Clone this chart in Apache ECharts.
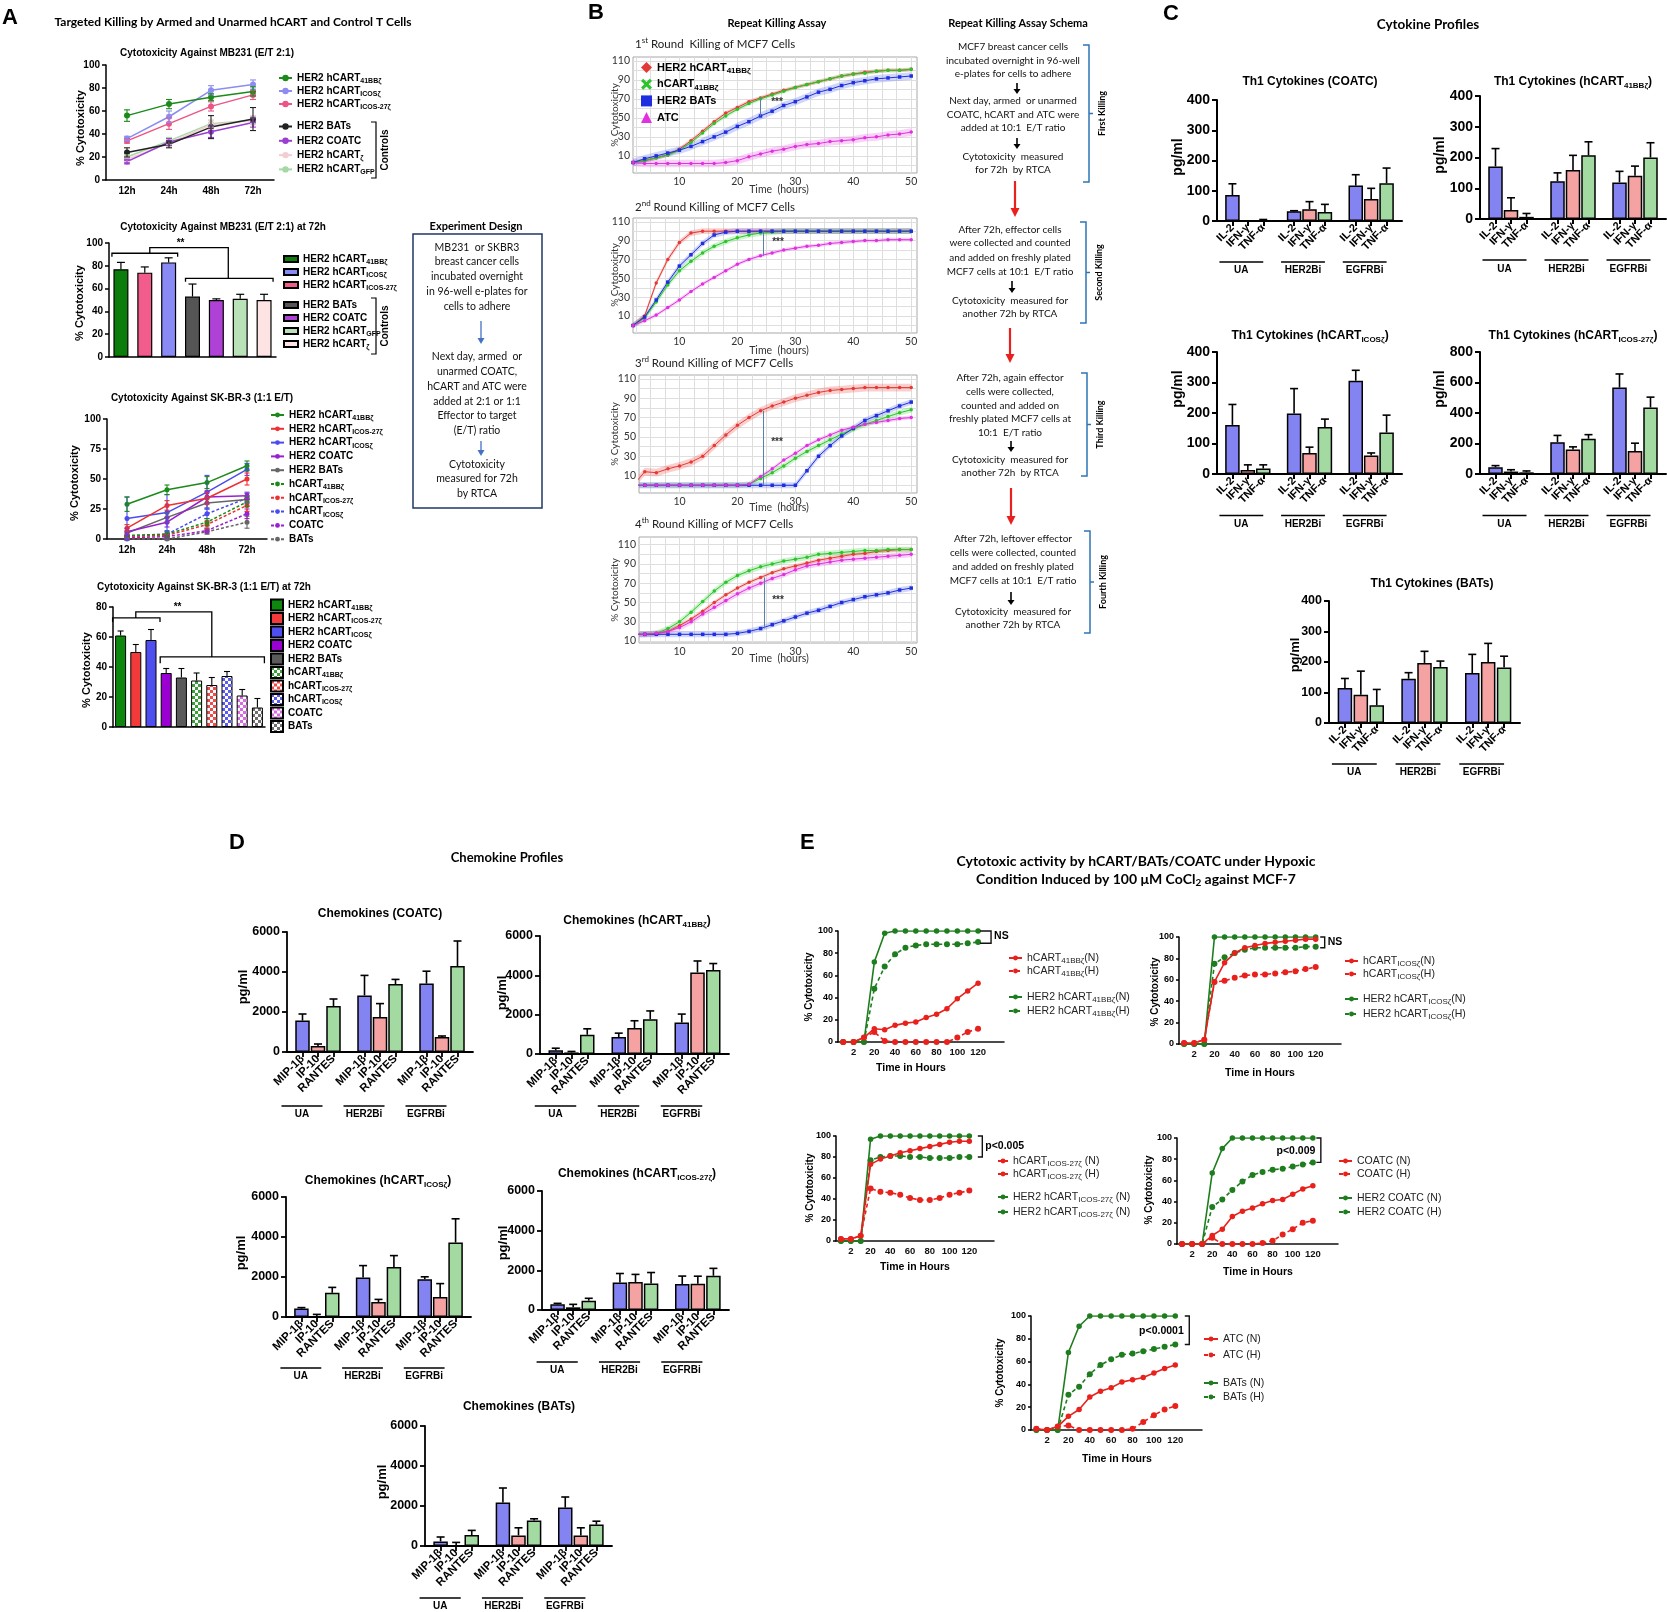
<!DOCTYPE html>
<html>
<head>
<meta charset="utf-8">
<title>hCART cytotoxicity, cytokine and chemokine panels</title>
<script src="https://cdn.jsdelivr.net/npm/echarts@6.0.0/dist/echarts.min.js"></script>
<style>
  html, body { margin: 0; padding: 0; background: #fff; }
  #main { width: 1667px; height: 1612px; }
</style>
</head>
<body>
<div id="main"></div>
<script>
// ---------------- panel A data ----------------
const timeA = ['12h', '24h', '48h', '72h'];
// MB231, E/T 2:1 kinetics
const mbCart41bb = [56, 66, 72, 77];
const mbCart41bbErr = [5, 4, 3, 4];
const mbCartIcos = [36, 55, 78, 83];
const mbCartIcosErr = [2, 5, 4, 4];
const mbCartIcos27 = [34, 49, 64, 74];
const mbCartIcos27Err = [2, 5, 4, 4];
const mbBats = [24, 31, 46, 53];
const mbBatsErr = [4, 3, 10, 10];
const mbCoatc = [16, 33, 42, 50];
const mbCoatcErr = [2, 3, 5, 4];
const mbCartZeta = [18, 32, 48, 52];
const mbCartZetaErr = [2, 3, 4, 4];
const mbCartGfp = [20, 34, 49, 52];
const mbCartGfpErr = [2, 3, 3, 3];
// MB231 at 72h
const mb72Groups = ['HER2 hCART41BBζ', 'HER2 hCARTICOS-27ζ', 'HER2 hCARTICOSζ', 'HER2 BATs', 'HER2 COATC', 'HER2 hCARTGFP', 'HER2 hCARTζ'];
const mb72Vals = [77, 74, 83, 53, 50, 51, 50];
const mb72Err = [6, 5, 4, 11, 1, 4, 5];
// SK-BR-3, 1:1 kinetics
const skCart41bb = [29, 41, 47, 61];
const skCart41bbErr = [6, 4, 5, 4];
const skCartIcos27 = [9, 28, 34, 50];
const skCartIcos27Err = [3, 4, 5, 5];
const skCartIcos = [17, 22, 39, 58];
const skCartIcosErr = [18, 15, 14, 5];
const skCoatc = [6, 14, 35, 36];
const skCoatcErr = [3, 4, 5, 3];
const skBats = [5, 18, 30, 33];
const skBatsErr = [2, 4, 4, 3];
const skUn41bb = [3, 4, 14, 31];
const skUn41bbErr = [1, 2, 3, 4];
const skUnIcos27 = [2, 3, 12, 28];
const skUnIcos27Err = [1, 1, 3, 5];
const skUnIcos = [2, 4, 21, 34];
const skUnIcosErr = [1, 2, 4, 4];
const skUnCoatc = [1, 2, 7, 21];
const skUnCoatcErr = [1, 1, 2, 4];
const skUnBats = [0, 0, 6, 14];
const skUnBatsErr = [1, 1, 2, 5];
// SK-BR-3 at 72h
const sk72Groups = ['HER2 hCART41BBζ', 'HER2 hCARTICOS-27ζ', 'HER2 hCARTICOSζ', 'HER2 COATC', 'HER2 BATs', 'hCART41BBζ', 'hCARTICOS-27ζ', 'hCARTICOSζ', 'COATC', 'BATs'];
const sk72Vals = [61, 50, 58, 36, 33, 31, 28, 34, 21, 13];
const sk72Err = [3, 5, 7, 3, 6, 5, 5, 3, 4, 6];

// ---------------- panel B data (RTCA, % cytotoxicity) ----------------
const hoursB = [2, 4, 6, 8, 10, 12, 14, 16, 18, 20, 22, 24, 26, 28, 30, 32, 34, 36, 38, 40, 42, 44, 46, 48, 50];
const b1Her2Cart = [3, 5, 8, 11, 17, 26, 36, 46, 55, 61, 67, 71, 75, 79, 82, 85, 88, 91, 94, 96, 98, 99, 100, 100, 101];
const b1Cart = [3, 5, 8, 11, 16, 24, 34, 44, 52, 59, 65, 70, 74, 78, 82, 85, 88, 91, 94, 96, 97, 99, 100, 100, 101];
const b1Bats = [3, 7, 10, 13, 16, 20, 25, 30, 35, 41, 46, 52, 57, 63, 67, 72, 77, 80, 84, 87, 89, 91, 92, 93, 94];
const b1Atc = [3, 2, 2, 2, 2, 2, 2, 2, 3, 5, 9, 12, 15, 17, 20, 22, 23, 25, 26, 27, 29, 30, 32, 33, 35];
const b2Her2Cart = [0, 10, 45, 70, 88, 98, 100, 100, 100, 100, 100, 100, 100, 100, 100, 100, 100, 100, 100, 100, 100, 100, 100, 100, 100];
const b2Cart = [0, 8, 25, 43, 58, 68, 77, 84, 89, 93, 96, 98, 99, 100, 100, 100, 100, 100, 100, 100, 100, 100, 100, 100, 100];
const b2Bats = [0, 9, 27, 46, 63, 75, 87, 96, 99, 100, 100, 100, 100, 100, 100, 100, 100, 100, 100, 100, 100, 100, 100, 100, 100];
const b2Atc = [0, 5, 11, 19, 27, 36, 44, 51, 58, 65, 70, 74, 77, 80, 82, 84, 85, 87, 88, 89, 90, 90, 91, 91, 91];
const b3Her2Cart = [0, 14, 13, 17, 20, 24, 30, 41, 52, 62, 70, 77, 82, 86, 90, 93, 96, 98, 99, 100, 101, 101, 101, 101, 101];
const b3Cart = [0, 0, 0, 0, 0, 0, 0, 0, 0, 0, 1, 7, 13, 20, 28, 35, 41, 47, 53, 58, 63, 67, 71, 75, 78];
const b3Bats = [0, 0, 0, 0, 0, 0, 0, 0, 0, 0, 0, 0, 0, 0, 0, 15, 30, 41, 51, 59, 67, 72, 77, 82, 86];
const b3Atc = [0, 0, 0, 0, 0, 0, 0, 0, 0, 0, 1, 9, 17, 26, 33, 41, 47, 52, 57, 60, 63, 65, 67, 69, 70];
const b4Her2Cart = [17, 17, 18, 20, 26, 33, 41, 50, 58, 65, 71, 76, 81, 85, 88, 91, 94, 96, 98, 100, 101, 103, 104, 105, 105];
const b4Cart = [17, 17, 18, 23, 30, 40, 51, 62, 71, 78, 83, 87, 90, 93, 95, 97, 100, 101, 102, 103, 104, 104, 105, 105, 105];
const b4Bats = [17, 17, 17, 17, 17, 17, 17, 17, 17, 18, 20, 23, 27, 31, 35, 39, 42, 46, 50, 53, 56, 58, 60, 63, 65];
const b4Atc = [17, 17, 18, 20, 24, 30, 38, 45, 52, 59, 65, 70, 75, 79, 84, 88, 90, 92, 94, 95, 96, 97, 98, 99, 100];
// half width of the shaded spread band, one per curve (HER2 hCART, hCART, HER2 BATs, ATC)
const b1Spread = [2, 2, 4, 4];
const b2Spread = [3, 3, 3, 2];
const b3Spread = [4, 3, 3, 2];
const b4Spread = [2, 3, 3, 3];

// ---------------- panel C data (pg/ml) ----------------
const cytoCats = ['IL-2', 'IFN-γ', 'TNF-α'];
const groupsCD = ['UA', 'HER2Bi', 'EGFRBi'];
const cytoCoatc = [86, 0, 2, 32, 39, 30, 117, 73, 125];
const cytoCoatcErr = [37, 0, 3, 2, 25, 25, 36, 35, 50];
const cyto41bb = [171, 29, 7, 123, 159, 207, 119, 141, 200];
const cyto41bbErr = [58, 40, 11, 27, 48, 44, 36, 31, 48];
const cytoIcos = [161, 13, 18, 198, 69, 154, 306, 61, 136];
const cytoIcosErr = [67, 17, 12, 82, 19, 26, 34, 8, 57];
const cytoIcos27 = [44, 16, 11, 209, 160, 231, 567, 151, 436];
const cytoIcos27Err = [11, 12, 9, 44, 18, 27, 89, 51, 68];
const cytoBats = [115, 93, 58, 145, 197, 184, 164, 200, 182];
const cytoBatsErr = [31, 77, 52, 20, 38, 19, 61, 61, 37];

// ---------------- panel D data (pg/ml) ----------------
const chemoCats = ['MIP-1β', 'IP-10', 'RANTES'];
const chemoCoatc = [1570, 300, 2300, 2830, 1750, 3400, 3420, 750, 4300];
const chemoCoatcErr = [330, 100, 350, 1000, 670, 230, 620, 50, 1250];
const chemo41bb = [185, 80, 980, 860, 1320, 1770, 1600, 4150, 4270];
const chemo41bbErr = [110, 50, 300, 200, 370, 420, 430, 580, 330];
const chemoIcos = [420, 10, 1210, 1980, 750, 2500, 1890, 1000, 3720];
const chemoIcosErr = [50, 120, 270, 590, 130, 570, 120, 670, 1190];
const chemoIcos27 = [285, 135, 470, 1390, 1410, 1340, 1310, 1320, 1730];
const chemoIcos27Err = [50, 150, 120, 450, 385, 550, 400, 385, 370];
const chemoBats = [230, 30, 550, 2170, 530, 1280, 1920, 530, 1070];
const chemoBatsErr = [220, 150, 230, 730, 380, 80, 530, 380, 170];

// ---------------- panel E data (% cytotoxicity, N = normoxia, H = hypoxia) ----------------
const hoursE = ['1', '2', '10', '20', '30', '40', '50', '60', '70', '80', '90', '100', '110', '120'];
const e41bbN = [0, 0, 4, 12, 11, 15, 17, 18, 22, 25, 30, 39, 46, 53];
const e41bbH = [0, 0, 4, 9, 1, 0, 0, 0, 0, 0, 0, 4, 9, 12];
const eHer2_41bbN = [0, 0, 0, 72, 98, 100, 100, 100, 100, 100, 100, 100, 100, 100];
const eHer2_41bbH = [0, 0, 0, 48, 68, 79, 85, 87, 88, 88, 88, 88, 89, 90];
const eIcosN = [1, 1, 4, 58, 76, 85, 90, 92, 94, 95, 96, 97, 98, 98];
const eIcosH = [1, 1, 4, 58, 59, 62, 64, 65, 65, 66, 67, 68, 70, 72];
const eHer2IcosN = [0, 0, 0, 100, 100, 100, 100, 100, 100, 100, 100, 100, 100, 100];
const eHer2IcosH = [0, 0, 0, 75, 81, 85, 88, 90, 90, 90, 90, 90, 91, 91];
const eIcos27N = [2, 2, 5, 73, 78, 81, 84, 86, 88, 90, 92, 94, 95, 95];
const eIcos27H = [2, 2, 5, 50, 47, 46, 44, 41, 39, 39, 41, 44, 46, 48];
const eHer2Icos27N = [0, 0, 0, 97, 100, 100, 100, 100, 100, 100, 100, 100, 100, 100];
const eHer2Icos27H = [0, 0, 0, 77, 80, 81, 81, 80, 80, 79, 79, 79, 80, 80];
const eCoatcN = [0, 0, 0, 8, 14, 26, 31, 34, 38, 41, 42, 47, 52, 55];
const eCoatcH = [0, 0, 0, 6, 0, 0, 0, 0, 1, 3, 9, 14, 20, 22];
const eHer2CoatcN = [0, 0, 0, 67, 90, 100, 100, 100, 100, 100, 100, 100, 100, 100];
const eHer2CoatcH = [0, 0, 0, 35, 42, 51, 59, 65, 68, 70, 71, 73, 75, 77];
const eAtcN = [1, 0, 3, 12, 18, 29, 34, 37, 42, 44, 46, 50, 54, 57];
const eAtcH = [1, 0, 3, 4, 0, 0, 0, 0, 0, 1, 7, 13, 18, 21];
const eBatsN = [0, 0, 0, 68, 91, 100, 100, 100, 100, 100, 100, 100, 100, 100];
const eBatsH = [0, 0, 0, 31, 38, 49, 57, 62, 66, 67, 69, 71, 73, 75];

// ---------------- helpers ----------------
const F = '"Liberation Sans", Arial, sans-serif';
const FL = 'Lato, "Open Sans", sans-serif';
const grids = [], xAxes = [], yAxes = [], series = [], legends = [], G = [], post = [];
const LBL = {};

function box(l, t, r, b) { return { left: l, top: t, width: r - l, height: b - t }; }
function plot(g, x, y) {
  const i = grids.length;
  grids.push(Object.assign({ outerBoundsMode: 'none', containLabel: false }, g));
  xAxes.push(Object.assign({ gridIndex: i }, x));
  yAxes.push(Object.assign({ gridIndex: i }, y));
  return i;
}
function gpY(max, interval, size, lw, tick, margin) {
  return { type: 'value', min: 0, max: max, interval: interval,
    axisLine: { show: true, lineStyle: { color: '#000', width: lw } },
    axisTick: { show: true, length: tick, lineStyle: { color: '#000', width: lw } },
    axisLabel: { color: '#000', fontFamily: F, fontWeight: 'bold', fontSize: size, margin: margin,
      formatter: function (v) { return String(v); } },
    splitLine: { show: false } };
}
function catX(cats, size, lw) {
  return { type: 'category', data: cats, boundaryGap: true,
    axisLine: { lineStyle: { color: '#000', width: lw } },
    axisTick: { alignWithLabel: true, length: 4, lineStyle: { color: '#000', width: lw } },
    axisLabel: { interval: 0, color: '#000', fontFamily: F, fontWeight: 'bold', fontSize: size, margin: 6 } };
}
function errBars(gi, pts, color, both, cap, lw) {
  series.push({ type: 'custom', xAxisIndex: gi, yAxisIndex: gi, silent: true, z: 4,
    encode: { x: 0, y: 1 }, data: pts,
    renderItem: function (p, api) {
      const x = api.value(0), v = api.value(1), e = api.value(2);
      const a = api.coord([x, v + e]), b = api.coord([x, both ? v - e : v]);
      const st = { stroke: color, lineWidth: lw };
      const kids = [
        { type: 'line', shape: { x1: a[0], y1: a[1], x2: b[0], y2: b[1] }, style: st },
        { type: 'line', shape: { x1: a[0] - cap / 2, y1: a[1], x2: a[0] + cap / 2, y2: a[1] }, style: st }];
      if (both) kids.push({ type: 'line', shape: { x1: b[0] - cap / 2, y1: b[1], x2: b[0] + cap / 2, y2: b[1] }, style: st });
      return { type: 'group', children: kids };
    } });
}
function legend(ids, left, top, o) {
  const fam = o.fam || F, w = o.w || 'bold', col = o.color || '#000', sub = Math.round(o.size * 0.72);
  legends.push({ data: ids.map(function (id, k) { return o.icons ? { name: id, icon: o.icons[k] } : (o.icon ? { name: id, icon: o.icon } : id); }),
    orient: 'vertical', left: left, top: top, padding: 0, selectedMode: false,
    itemWidth: o.iw, itemHeight: o.ih, itemGap: o.gap,
    formatter: function (n) { return LBL[n]; },
    textStyle: { fontFamily: fam, fontWeight: w, fontSize: o.size, color: col, lineHeight: o.lh,
      rich: { s: { fontFamily: fam, fontWeight: w, fontSize: sub, color: col, lineHeight: sub + 1, verticalAlign: 'bottom' } } } });
}
function T(x, y, text, size, o) {
  o = o || {};
  const w = o.w || 'bold', fam = o.fam || F, col = o.color || '#000';
  const sub = Math.max(6, Math.round(size * 0.7));
  const sf = w + ' ' + sub + 'px ' + fam;
  G.push({ type: 'text', x: x, y: y, rotation: o.rot || 0, silent: true, z: 10,
    style: { text: text, font: w + ' ' + size + 'px ' + fam, fill: col,
      textAlign: o.align || 'center', textVerticalAlign: 'middle', align: o.align || 'center', verticalAlign: 'middle',
      lineHeight: size + 4,
      rich: { s: { font: sf, fill: col, verticalAlign: 'bottom', lineHeight: sub + 1 },
              u: { font: sf, fill: col, verticalAlign: 'top', lineHeight: sub + 1 } } } });
}
function L(pts, col, w) {
  G.push({ type: 'polyline', silent: true, z: 10, shape: { points: pts }, style: { stroke: col || '#000', lineWidth: w || 1.2, fill: 'none' } });
}
function arrow(x, y1, y2, col, w, hw, hh) {
  L([[x, y1], [x, y2 - hh + 1]], col, w);
  G.push({ type: 'polygon', silent: true, z: 10, shape: { points: [[x - hw, y2 - hh], [x + hw, y2 - hh], [x, y2]] }, style: { fill: col } });
}
function checker(color) {
  const c = document.createElement('canvas'); c.width = 6; c.height = 6;
  const g = c.getContext('2d');
  g.fillStyle = '#fff'; g.fillRect(0, 0, 6, 6);
  g.fillStyle = color; g.fillRect(0, 0, 3, 3); g.fillRect(3, 3, 3, 3);
  return { image: c, repeat: 'repeat' };
}
function lineCurves(gi, curves, cap, size) {
  curves.slice().reverse().forEach(function (c) {
    LBL[c[0]] = c[1];
    series.push({ type: 'line', name: c[0], xAxisIndex: gi, yAxisIndex: gi, data: c[2], symbol: 'circle', symbolSize: size,
      itemStyle: { color: c[4] }, lineStyle: { color: c[4], width: 1.5, type: c[5] ? [3, 2] : 'solid' }, z: 3, silent: true });
    errBars(gi, c[3].map(function (e, i) { return [i, c[2][i], e]; }), c[4], true, cap, 1.1);
  });
}
function singleBars(gi, ids, lbls, vals, cols, bw, bwid) {
  ids.forEach(function (id, i) {
    LBL[id] = lbls[i];
    series.push({ type: 'bar', name: id, xAxisIndex: gi, yAxisIndex: gi, barWidth: bw, barGap: '-100%', silent: true, z: 2,
      data: vals.map(function (v, j) { return j === i ? v : '-'; }),
      itemStyle: { color: cols[i], borderColor: '#000', borderWidth: bwid } });
  });
}
const P = function (gi, x, y) { return chart.convertToPixel({ gridIndex: gi }, [x, y]); };

// ---------------- panel A ----------------
T(2, 18, 'A', 22, { align: 'left' });
T(233, 22, 'Targeted Killing by Armed and Unarmed hCART and Control T Cells', 12, { fam: FL });

const a1 = plot(box(106, 65, 274, 180), catX(timeA, 10, 1.5), gpY(100, 20, 10, 1.5, 4, 6));
lineCurves(a1, [
  ['a1_41bb', 'HER2 hCART{s|41BBζ}', mbCart41bb, mbCart41bbErr, '#1b8a1b'],
  ['a1_icos', 'HER2 hCART{s|ICOSζ}', mbCartIcos, mbCartIcosErr, '#8c8cf2'],
  ['a1_icos27', 'HER2 hCART{s|ICOS-27ζ}', mbCartIcos27, mbCartIcos27Err, '#ec5585'],
  ['a1_bats', 'HER2 BATs', mbBats, mbBatsErr, '#222222'],
  ['a1_coatc', 'HER2 COATC', mbCoatc, mbCoatcErr, '#9a3fd2'],
  ['a1_zeta', 'HER2 hCART{s|ζ}', mbCartZeta, mbCartZetaErr, '#f4cdd2'],
  ['a1_gfp', 'HER2 hCART{s|GFP}', mbCartGfp, mbCartGfpErr, '#a6d8a6']
], 6, 6);
legend(['a1_41bb', 'a1_icos', 'a1_icos27'], 278, 71.5, { iw: 13, ih: 8, gap: 0, size: 10, lh: 13 });
legend(['a1_bats', 'a1_coatc', 'a1_zeta', 'a1_gfp'], 278, 120, { iw: 13, ih: 8, gap: 1.3, size: 10, lh: 13 });
T(207, 53, 'Cytotoxicity Against MB231 (E/T 2:1)', 10);
T(81, 128, '% Cytotoxicity', 11, { rot: Math.PI / 2 });
L([[371, 122], [376, 122], [376, 178], [371, 178]], '#000', 1.2);
T(385, 150, 'Controls', 10, { rot: Math.PI / 2 });

const a2 = plot(box(109, 243, 276, 357), Object.assign(catX(mb72Groups, 10, 1.5), { axisLabel: { show: false } }), gpY(100, 20, 10, 1.5, 4, 6));
singleBars(a2, ['a2_41bb', 'a2_icos27', 'a2_icos', 'a2_bats', 'a2_coatc', 'a2_gfp', 'a2_zeta'],
  ['HER2 hCART{s|41BBζ}', 'HER2 hCART{s|ICOS-27ζ}', 'HER2 hCART{s|ICOSζ}', 'HER2 BATs', 'HER2 COATC', 'HER2 hCART{s|GFP}', 'HER2 hCART{s|ζ}'],
  mb72Vals, ['#0a7d0a', '#f25c8c', '#8a8af5', '#555555', '#b041d6', '#b9e2b9', '#fde3e3'], 15, 1.2);
errBars(a2, mb72Vals.map(function (v, i) { return [i, v, mb72Err[i]]; }), '#000', false, 8, 1.2);
legend(['a2_41bb', 'a2_icos', 'a2_icos27'], 283, 252.5, { iw: 14, ih: 6, gap: 0, size: 10, lh: 13, icon: 'rect' });
legend(['a2_bats', 'a2_coatc', 'a2_gfp', 'a2_zeta'], 283, 298.5, { iw: 14, ih: 6, gap: 0, size: 10, lh: 13, icon: 'rect' });
T(223, 227, 'Cytotoxicity Against MB231 (E/T 2:1) at 72h', 10);
T(80, 303, '% Cytotoxicity', 11, { rot: Math.PI / 2 });
L([[371, 298], [376, 298], [376, 354], [371, 354]], '#000', 1.2);
T(385, 326, 'Controls', 10, { rot: Math.PI / 2 });
post.push(function () {
  const x = function (i) { return P(a2, i, 0)[0]; }, y = function (v) { return P(a2, 0, v)[1]; };
  const xr = (x(3) + x(6)) / 2;
  L([[x(0) - 9, y(88)], [x(0) - 9, y(91)], [x(2) + 9, y(91)], [x(2) + 9, y(88)]], '#000', 1.3);
  L([[x(1) + 5, y(91)], [x(1) + 5, y(96)], [xr, y(96)], [xr, y(69)]], '#000', 1.3);
  L([[x(3) - 7, y(66)], [x(3) - 7, y(69)], [x(6) + 9, y(69)], [x(6) + 9, y(66)]], '#000', 1.3);
  T((x(2) + x(3)) / 2, y(100), '**', 10);
});

const a3 = plot(box(107, 419, 267, 539), catX(timeA, 10, 1.5), gpY(100, 25, 10, 1.5, 4, 6));
lineCurves(a3, [
  ['a3_41bb', 'HER2 hCART{s|41BBζ}', skCart41bb, skCart41bbErr, '#1b8a1b'],
  ['a3_icos27', 'HER2 hCART{s|ICOS-27ζ}', skCartIcos27, skCartIcos27Err, '#f03030'],
  ['a3_icos', 'HER2 hCART{s|ICOSζ}', skCartIcos, skCartIcosErr, '#4b4bf0'],
  ['a3_coatc', 'HER2 COATC', skCoatc, skCoatcErr, '#9a1fd0'],
  ['a3_bats', 'HER2 BATs', skBats, skBatsErr, '#666666'],
  ['a3_u41bb', 'hCART{s|41BBζ}', skUn41bb, skUn41bbErr, '#1b8a1b', true],
  ['a3_uicos27', 'hCART{s|ICOS-27ζ}', skUnIcos27, skUnIcos27Err, '#f03030', true],
  ['a3_uicos', 'hCART{s|ICOSζ}', skUnIcos, skUnIcosErr, '#4b4bf0', true],
  ['a3_ucoatc', 'COATC', skUnCoatc, skUnCoatcErr, '#9a1fd0', true],
  ['a3_ubats', 'BATs', skUnBats, skUnBatsErr, '#666666', true]
], 5, 5);
legend(['a3_41bb', 'a3_icos27', 'a3_icos', 'a3_coatc', 'a3_bats', 'a3_u41bb', 'a3_uicos27', 'a3_uicos', 'a3_ucoatc', 'a3_ubats'],
  270, 408.5, { iw: 13, ih: 6, gap: 0.8, size: 10, lh: 13 });
T(202, 398, 'Cytotoxicity Against SK-BR-3 (1:1 E/T)', 10);
T(75, 483, '% Cytotoxicity', 11, { rot: Math.PI / 2 });

const a4 = plot(box(113, 607, 265, 727), Object.assign(catX(sk72Groups, 10, 1.5), { axisLabel: { show: false } }), gpY(80, 20, 10, 1.5, 4, 6));
singleBars(a4, ['a4_41bb', 'a4_icos27', 'a4_icos', 'a4_coatc', 'a4_bats', 'a4_u41bb', 'a4_uicos27', 'a4_uicos', 'a4_ucoatc', 'a4_ubats'],
  ['HER2 hCART{s|41BBζ}', 'HER2 hCART{s|ICOS-27ζ}', 'HER2 hCART{s|ICOSζ}', 'HER2 COATC', 'HER2 BATs', 'hCART{s|41BBζ}', 'hCART{s|ICOS-27ζ}', 'hCART{s|ICOSζ}', 'COATC', 'BATs'],
  sk72Vals, ['#0e870e', '#f23a3a', '#4f4ff0', '#9b00d2', '#5a5a5a', checker('#3f9f3f'), checker('#ee4b4b'), checker('#5b5bef'), checker('#d86ae4'), checker('#6f6f6f')], 11, 1);
errBars(a4, sk72Vals.map(function (v, i) { return [i, v, sk72Err[i]]; }), '#000', false, 6, 1.1);
legend(['a4_41bb', 'a4_icos27', 'a4_icos', 'a4_coatc', 'a4_bats', 'a4_u41bb', 'a4_uicos27', 'a4_uicos', 'a4_ucoatc', 'a4_ubats'],
  270, 598.5, { iw: 12, ih: 11, gap: 0.5, size: 10, lh: 13, icon: 'rect' });
T(204, 587, 'Cytotoxicity Against SK-BR-3 (1:1 E/T) at 72h', 10);
T(87, 670, '% Cytotoxicity', 11, { rot: Math.PI / 2 });
post.push(function () {
  const x = function (i) { return P(a4, i, 0)[0]; }, y = function (v) { return P(a4, 0, v)[1]; };
  const xr = (x(3) + x(9)) / 2;
  L([[x(0) - 8, y(70)], [x(0) - 8, y(72.7)], [x(2) + 9, y(72.7)], [x(2) + 9, y(70)]], '#000', 1.3);
  L([[x(1), y(72.7)], [x(1), y(76.7)], [xr, y(76.7)], [xr, y(46.7)]], '#000', 1.3);
  L([[x(3) - 6, y(42.5)], [x(3) - 6, y(46.7)], [x(9) + 7, y(46.7)], [x(9) + 7, y(42.5)]], '#000', 1.3);
  T(x(3) * 0.25 + x(4) * 0.75, y(80), '**', 10);
});

// Experiment design box
T(476, 226, 'Experiment Design', 11, { fam: FL });
G.push({ type: 'rect', silent: true, z: 9, shape: { x: 413, y: 234, width: 129, height: 274 }, style: { fill: 'none', stroke: '#1f3864', lineWidth: 1.5 } });
[[248, 'MB231  or SKBR3'], [262, 'breast cancer cells'], [277, 'incubated overnight'], [292, 'in 96-well e-plates for'], [307, 'cells to adhere'],
 [357, 'Next day, armed  or'], [372, 'unarmed COATC,'], [387, 'hCART and ATC were'], [402, 'added at 2:1 or 1:1'], [416, 'Effector to target'], [431, '(E/T) ratio'],
 [465, 'Cytotoxicity'], [479, 'measured for 72h'], [494, 'by RTCA']].forEach(function (r) { T(477, r[0], r[1], 10.5, { fam: FL, w: 'normal', color: '#111' }); });
arrow(481, 321, 344, '#4472c4', 1.3, 3.5, 6);
arrow(481, 441, 456, '#4472c4', 1.3, 3.5, 6);

// ---------------- panel B ----------------
T(588, 13, 'B', 22, { align: 'left' });
T(777, 23, 'Repeat Killing Assay', 11, { fam: FL });
T(1018, 23, 'Repeat Killing Assay Schema', 11, { fam: FL });
const bTicksX = [2.5, 5, 7.5, 10, 12.5, 15, 17.5, 20, 22.5, 25, 27.5, 30, 32.5, 35, 37.5, 40, 42.5, 45, 47.5, 50];
const bTicksY = [0, 10, 20, 30, 40, 50, 60, 70, 80, 90, 100, 110];
const bLine = ['#e53935', '#2bc42b', '#1f2fe0', '#e030e0'];
const bBand = ['rgba(239,83,80,0.28)', 'rgba(76,217,76,0.28)', 'rgba(90,110,240,0.28)', 'rgba(235,90,235,0.28)'];
const bSym = ['circle', 'circle', 'rect', 'circle'];
function bPlot(b, xmin, ymin, ymax, ids, curves, spread, mark) {
  const gi = plot(Object.assign(b, { show: true, borderColor: '#a8a8a8', borderWidth: 1, backgroundColor: '#fff' }),
    { type: 'value', min: xmin, max: 51,
      axisLine: { show: false }, axisTick: { show: false, customValues: bTicksX },
      axisLabel: { customValues: [10, 20, 30, 40, 50], color: '#333', fontFamily: FL, fontSize: 10.5, margin: 3 },
      splitLine: { show: true, lineStyle: { color: '#dedede', width: 1 } } },
    { type: 'value', min: ymin, max: ymax,
      axisLine: { show: false }, axisTick: { show: false, customValues: bTicksY },
      axisLabel: { customValues: [10, 30, 50, 70, 90, 110], color: '#333', fontFamily: FL, fontSize: 10.5, margin: 3 },
      splitLine: { show: true, lineStyle: { color: '#dedede', width: 1 } } });
  curves.forEach(function (vals, k) {
    series.push({ type: 'custom', xAxisIndex: gi, yAxisIndex: gi, silent: true, clip: true, z: 1,
      data: [[hoursB[5], vals[5]]],
      renderItem: function (p, api) {
        const up = hoursB.map(function (h, j) { return api.coord([h, vals[j] + spread[k]]); });
        const lo = hoursB.map(function (h, j) { return api.coord([h, vals[j] - spread[k]]); }).reverse();
        return { type: 'polygon', shape: { points: up.concat(lo) }, style: { fill: bBand[k] } };
      } });
  });
  curves.forEach(function (vals, k) {
    const s = { type: 'line', name: ids[k], xAxisIndex: gi, yAxisIndex: gi, silent: true, z: 3,
      data: hoursB.map(function (h, j) { return [h, vals[j]]; }),
      symbol: bSym[k], symbolSize: 3.5, itemStyle: { color: bLine[k] }, lineStyle: { color: bLine[k], width: 1 } };
    if (k === 0) s.markLine = { silent: true, symbol: ['none', 'none'], label: { show: false },
      lineStyle: { color: '#5a7fa8', width: 1, type: 'solid' },
      data: [[{ coord: [mark[0], mark[1]] }, { coord: [mark[0], mark[2]] }]] };
    series.push(s);
  });
  return gi;
}
bPlot(box(633, 57, 917, 173), 2, -8, 114, ['b1_her2', 'b1_cart', 'b1_bats', 'b1_atc'], [b1Her2Cart, b1Cart, b1Bats, b1Atc], b1Spread, [24, 71, 52]);
bPlot(box(633, 218, 917, 333), 2, -8, 114, ['b2_her2', 'b2_cart', 'b2_bats', 'b2_atc'], [b2Her2Cart, b2Cart, b2Bats, b2Atc], b2Spread, [24.5, 100, 74]);
bPlot(box(639, 375, 917, 493), 3, -8, 114, ['b3_her2', 'b3_cart', 'b3_bats', 'b3_atc'], [b3Her2Cart, b3Cart, b3Bats, b3Atc], b3Spread, [24.4, 77, 0]);
bPlot(box(639, 537, 917, 643), 3, 8, 118, ['b4_her2', 'b4_cart', 'b4_bats', 'b4_atc'], [b4Her2Cart, b4Cart, b4Bats, b4Atc], b4Spread, [24.6, 76, 23]);
LBL.b1_her2 = 'HER2 hCART{s|41BBζ}'; LBL.b1_cart = 'hCART{s|41BBζ}'; LBL.b1_bats = 'HER2 BATs'; LBL.b1_atc = 'ATC';
legend(['b1_her2', 'b1_cart', 'b1_bats', 'b1_atc'], 641, 60, { iw: 11, ih: 11, gap: 1.7, size: 11, lh: 15,
  icons: ['diamond', 'path://M0,2L2,0L5,3L8,0L10,2L7,5L10,8L8,10L5,7L2,10L0,8L3,5Z', 'rect', 'triangle'] });
[[44, '1{u|st} Round  Killing of MCF7 Cells', 190, 115], [207, '2{u|nd} Round Killing of MCF7 Cells', 351, 275],
 [363, '3{u|rd} Round Killing of MCF7 Cells', 508, 434], [524, '4{u|th} Round Killing of MCF7 Cells', 659, 590]].forEach(function (r) {
  T(635, r[0], r[1], 11.5, { fam: FL, w: 'normal', align: 'left', color: '#222' });
  T(779, r[2], 'Time  (hours)', 10.5, { fam: FL, w: 'normal', color: '#333' });
  T(615, r[3], '% Cytotoxicity', 10, { fam: FL, w: 'normal', rot: Math.PI / 2, color: '#333' });
});
T(777, 102, '***', 10, { color: '#333' });
T(778, 242, '***', 10, { color: '#333' });
T(777, 442, '***', 10, { color: '#333' });
T(778, 600, '***', 10, { color: '#333' });

// schema column
function brace(x, y1, y2, label) {
  const m = (y1 + y2) / 2;
  L([[x - 6, y1], [x, y1], [x, y2], [x - 6, y2]], '#2e75b6', 1.5);
  L([[x, m], [x + 4, m]], '#2e75b6', 1.5);
  T(x + 13, m, label, 9, { fam: FL, rot: Math.PI / 2 });
}
function schema(cx, rows) { rows.forEach(function (r) { T(cx, r[0], r[1], 10, { fam: FL, w: 'normal', color: '#111' }); }); }
schema(1013, [[47, 'MCF7 breast cancer cells'], [61, 'incubated overnight in 96-well'], [74, 'e-plates for cells to adhere'],
  [101, 'Next day, armed  or unarmed'], [115, 'COATC, hCART and ATC were'], [128, 'added at 10:1  E/T ratio'],
  [157, 'Cytotoxicity  measured'], [170, 'for 72h  by RTCA']]);
arrow(1017, 83, 94, '#000', 1.6, 3.5, 5);
arrow(1017, 138, 149, '#000', 1.6, 3.5, 5);
brace(1089, 45, 182, 'First Killing');
arrow(1015, 181, 217, '#e8201e', 2.2, 4.5, 9);
schema(1010, [[230, 'After 72h, effector cells'], [243, 'were collected and counted'], [258, 'and added on freshly plated'],
  [272, 'MCF7 cells at 10:1  E/T ratio'], [301, 'Cytotoxicity  measured for'], [314, 'another 72h by RTCA']]);
arrow(1012, 281, 293, '#000', 1.6, 3.5, 5);
brace(1086, 222, 323, 'Second Killing');
arrow(1010, 328, 363, '#e8201e', 2.2, 4.5, 9);
schema(1010, [[378, 'After 72h, again effector'], [392, 'cells were collected,'], [406, 'counted and added on'],
  [419, 'freshly plated MCF7 cells at'], [433, '10:1  E/T ratio'], [460, 'Cytotoxicity  measured for'], [473, 'another 72h  by RTCA']]);
arrow(1011, 441, 452, '#000', 1.6, 3.5, 5);
brace(1087, 373, 476, 'Third Killing');
arrow(1011, 488, 525, '#e8201e', 2.2, 4.5, 9);
schema(1013, [[539, 'After 72h, leftover effector'], [553, 'cells were collected, counted'], [567, 'and added on freshly plated'],
  [581, 'MCF7 cells at 10:1  E/T ratio'], [612, 'Cytotoxicity  measured for'], [625, 'another 72h by RTCA']]);
arrow(1011, 592, 605, '#000', 1.6, 3.5, 5);
brace(1090, 531, 633, 'Fourth Killing');

// ---------------- panels C and D (grouped bars) ----------------
const barColors = ['#8383f1', '#f4a2a2', '#a2daa2'];
function groupPlot(b, names, vals, errs, ymax, yint, st) {
  const cats = [''];
  groupsCD.forEach(function (g, k) { names.forEach(function (n) { cats.push(n); }); cats.push(' '.repeat(k + 1)); });
  const slot = function (j) { return 1 + j + Math.floor(j / names.length); };
  const barData = cats.map(function () { return '-'; });
  vals.forEach(function (v, j) { barData[slot(j)] = { value: v, itemStyle: { color: barColors[j % names.length] } }; });
  const gi = plot(b,
    { type: 'category', data: cats, boundaryGap: false,
      axisLine: { lineStyle: { color: '#000', width: st.lw } },
      axisTick: { interval: function (i, v) { return String(v).trim() !== ''; }, length: 5, lineStyle: { color: '#000', width: st.lw } },
      axisLabel: { interval: 0, rotate: 45, color: '#000', fontFamily: F, fontWeight: 'bold', fontSize: st.lab, margin: 5 } },
    gpY(ymax, yint, st.tick, st.lw, 5, 7));
  series.push({ type: 'bar', xAxisIndex: gi, yAxisIndex: gi, data: barData, barWidth: st.bw, silent: true, z: 2,
    itemStyle: { borderColor: '#000', borderWidth: 1.5 } });
  errBars(gi, vals.map(function (v, j) { return [slot(j), v, errs[j]]; }), '#000', false, st.cap, 1.6);
  post.push(function () {
    groupsCD.forEach(function (g, k) {
      const x1 = P(gi, slot(3 * k), 0)[0] - st.a, x2 = P(gi, slot(3 * k + 2), 0)[0] - st.b;
      L([[x1, st.ly], [x2, st.ly]], '#000', 1.6);
      T((x1 + x2) / 2, st.gy, g, st.gs);
    });
  });
  T(st.tx, st.ty, st.title, st.ts);
  T(st.px, st.py, 'pg/ml', st.ps, { rot: Math.PI / 2 });
  return gi;
}
function withSt(base, o) { return Object.assign({}, base, o); }
T(1163, 14, 'C', 22, { align: 'left' });
T(1428, 25, 'Cytokine Profiles', 13.5, { fam: FL });
const cSt = { tick: 14, lw: 2, bw: 14.5, cap: 8, lab: 11, a: 13, b: 0, gs: 10, ts: 12, ps: 14 };
groupPlot(box(1217, 100, 1402, 221), cytoCats, cytoCoatc, cytoCoatcErr, 400, 100,
  withSt(cSt, { ly: 262, gy: 270.5, tx: 1310, ty: 82, title: 'Th1 Cytokines (COATC)', px: 1178, py: 157 }));
groupPlot(box(1480, 96, 1666, 219), cytoCats, cyto41bb, cyto41bbErr, 400, 100,
  withSt(cSt, { ly: 260, gy: 269, tx: 1573, ty: 82, title: 'Th1 Cytokines (hCART{s|41BBζ})', px: 1440, py: 155 }));
groupPlot(box(1217, 352, 1402, 474), cytoCats, cytoIcos, cytoIcosErr, 400, 100,
  withSt(cSt, { ly: 515.5, gy: 524, tx: 1310, ty: 336, title: 'Th1 Cytokines (hCART{s|ICOSζ})', px: 1178, py: 389 }));
groupPlot(box(1480, 352, 1666, 474), cytoCats, cytoIcos27, cytoIcos27Err, 800, 200,
  withSt(cSt, { ly: 515.5, gy: 524, tx: 1573, ty: 336, title: 'Th1 Cytokines (hCART{s|ICOS-27ζ})', px: 1440, py: 389 }));
groupPlot(box(1329, 601, 1520, 723), cytoCats, cytoBats, cytoBatsErr, 400, 100,
  withSt(cSt, { tick: 12.5, ps: 13, ly: 764, gy: 772, tx: 1432, ty: 584, title: 'Th1 Cytokines (BATs)', px: 1295, py: 655 }));

T(229, 843, 'D', 22, { align: 'left' });
T(507, 858, 'Chemokine Profiles', 13, { fam: FL });
const dSt = { tick: 12.5, lw: 1.8, bw: 14.5, cap: 8, lab: 11.5, a: 21, b: 11, gs: 10, ts: 12, ps: 13 };
groupPlot(box(287, 932, 473, 1052), chemoCats, chemoCoatc, chemoCoatcErr, 6000, 2000,
  withSt(dSt, { ly: 1106, gy: 1114, tx: 380, ty: 914, title: 'Chemokines (COATC)', px: 243, py: 987 }));
groupPlot(box(540, 936, 729, 1054), chemoCats, chemo41bb, chemo41bbErr, 6000, 2000,
  withSt(dSt, { ly: 1106, gy: 1114, tx: 637, ty: 921, title: 'Chemokines (hCART{s|41BBζ})', px: 502, py: 993 }));
groupPlot(box(286, 1197, 471, 1317), chemoCats, chemoIcos, chemoIcosErr, 6000, 2000,
  withSt(dSt, { ly: 1368, gy: 1376, tx: 378, ty: 1181, title: 'Chemokines (hCART{s|ICOSζ})', px: 241, py: 1253 }));
groupPlot(box(542, 1191, 729, 1310), chemoCats, chemoIcos27, chemoIcos27Err, 6000, 2000,
  withSt(dSt, { ly: 1362, gy: 1370, tx: 637, ty: 1174, title: 'Chemokines (hCART{s|ICOS-27ζ})', px: 503, py: 1243 }));
groupPlot(box(425, 1426, 612, 1546), chemoCats, chemoBats, chemoBatsErr, 6000, 2000,
  withSt(dSt, { ly: 1598, gy: 1606, tx: 519, ty: 1407, title: 'Chemokines (BATs)', px: 382, py: 1482 }));

// ---------------- panel E ----------------
T(800, 843, 'E', 22, { align: 'left' });
T(1136, 861, 'Cytotoxic activity by hCART/BATs/COATC under Hypoxic', 14, { fam: FL });
T(1136, 879, 'Condition Induced by 100 μM CoCl{s|2} against MCF-7', 14, { fam: FL });
const eCats = hoursE.concat([' ', '  ']);
const eShow = function (i) { return i % 2 === 1 && i <= 13; };
const eRed = '#e8211d', eGreen = '#1e7d1e';
function ePlot(b, curves, lx, iw, t1, gap1, t2, gap2, yName, xName, br) {
  const gi = plot(b,
    { type: 'category', data: eCats, boundaryGap: true,
      axisLine: { lineStyle: { color: '#111', width: 1.5 } },
      axisTick: { alignWithLabel: true, interval: eShow, length: 3, lineStyle: { color: '#111', width: 1.2 } },
      axisLabel: { interval: eShow, color: '#111', fontFamily: F, fontWeight: 'bold', fontSize: 9.5, margin: 5 } },
    gpY(100, 20, 9, 1.5, 3, 5));
  [2, 3, 0, 1].forEach(function (k) {
    const c = curves[k], dashed = k % 2 === 1, col = k < 2 ? eRed : eGreen;
    LBL[c[0]] = c[1];
    series.push({ type: 'line', name: c[0], xAxisIndex: gi, yAxisIndex: gi, data: c[2], silent: true, z: 3,
      symbol: 'circle', symbolSize: dashed ? 6 : 5.5, itemStyle: { color: col },
      lineStyle: { color: col, width: 1.6, type: dashed ? [4, 3] : 'solid' } });
  });
  const lo = { iw: iw, ih: 6, size: 10.5, lh: 13, w: 'normal', color: '#222' };
  legend([curves[0][0], curves[1][0]], lx, t1, Object.assign({ gap: gap1 }, lo));
  legend([curves[2][0], curves[3][0]], lx, t2, Object.assign({ gap: gap2 }, lo));
  T(yName[0], yName[1], '% Cytotoxicity', 10, { rot: Math.PI / 2 });
  T(xName[0], xName[1], 'Time in Hours', 10.5);
  post.push(function () {
    const xb = P(gi, 13, 0)[0] + br.dx;
    const y1 = P(gi, 0, 100)[1], y2 = P(gi, 0, br.low)[1];
    L([[xb - br.hook, y1], [xb, y1], [xb, y2], [xb - br.hook, y2]], '#111', 1.4);
    const ty = P(gi, 0, br.ty)[1];
    if (br.right) T(xb + 3, ty, br.text, br.size, { align: 'left' });
    else T(xb - br.hook - 1, ty, br.text, br.size, { align: 'right' });
  });
  return gi;
}
ePlot(box(838, 931, 1004, 1042), [
  ['e1_n', 'hCART{s|41BBζ}(N)', e41bbN], ['e1_h', 'hCART{s|41BBζ}(H)', e41bbH],
  ['e1_hn', 'HER2 hCART{s|41BBζ}(N)', eHer2_41bbN], ['e1_hh', 'HER2 hCART{s|41BBζ}(H)', eHer2_41bbH]],
  1008, 13, 951.5, 0, 990.5, 1, [809, 987], [911, 1068], { dx: 13, hook: 11, low: 89, ty: 95, text: 'NS', size: 10.5, right: true });
ePlot(box(1179, 937, 1341, 1044), [
  ['e2_n', 'hCART{s|ICOSζ}(N)', eIcosN], ['e2_h', 'hCART{s|ICOSζ}(H)', eIcosH],
  ['e2_hn', 'HER2 hCART{s|ICOSζ}(N)', eHer2IcosN], ['e2_hh', 'HER2 hCART{s|ICOSζ}(H)', eHer2IcosH]],
  1344, 13, 954.5, 0, 992.5, 2, [1155, 992], [1260, 1073], { dx: 9, hook: 4.5, low: 90, ty: 95, text: 'NS', size: 10.5, right: true });
ePlot(box(836, 1136, 994, 1241), [
  ['e3_n', 'hCART{s|ICOS-27ζ} (N)', eIcos27N], ['e3_h', 'hCART{s|ICOS-27ζ} (H)', eIcos27H],
  ['e3_hn', 'HER2 hCART{s|ICOS-27ζ} (N)', eHer2Icos27N], ['e3_hh', 'HER2 hCART{s|ICOS-27ζ} (N)', eHer2Icos27H]],
  997, 10, 1154.5, 0, 1190.5, 2, [810, 1188], [915, 1267], { dx: 13, hook: 4.5, low: 80, ty: 90, text: 'p<0.005', size: 10.5, right: true });
ePlot(box(1177, 1138, 1338, 1244), [
  ['e4_n', 'COATC (N)', eCoatcN], ['e4_h', 'COATC (H)', eCoatcH],
  ['e4_hn', 'HER2 COATC (N)', eHer2CoatcN], ['e4_hh', 'HER2 COATC (H)', eHer2CoatcH]],
  1338, 13, 1154.5, 0, 1191.5, 1, [1149, 1190], [1258, 1272], { dx: 8, hook: 4.5, low: 77, ty: 88, text: 'p<0.009', size: 10.5, right: false });
ePlot(box(1031, 1316, 1202, 1430), [
  ['e5_n', 'ATC (N)', eAtcN], ['e5_h', 'ATC (H)', eAtcH],
  ['e5_hn', 'BATs (N)', eBatsN], ['e5_hh', 'BATs (H)', eBatsH]],
  1203, 14, 1332.5, 3, 1376.5, 1, [1000, 1373], [1117, 1459], { dx: 14, hook: 4.5, low: 75, ty: 87, text: 'p<0.0001', size: 10.5, right: false });

// ---------------- render ----------------
const chart = echarts.init(document.getElementById('main'), null, { renderer: 'canvas', width: 1667, height: 1612 });
chart.setOption({
  animation: false,
  backgroundColor: '#ffffff',
  textStyle: { fontFamily: F },
  grid: grids, xAxis: xAxes, yAxis: yAxes, series: series, legend: legends
});
post.forEach(function (fn) { fn(); });
chart.setOption({ graphic: { elements: G } });
</script>
</body>
</html>
